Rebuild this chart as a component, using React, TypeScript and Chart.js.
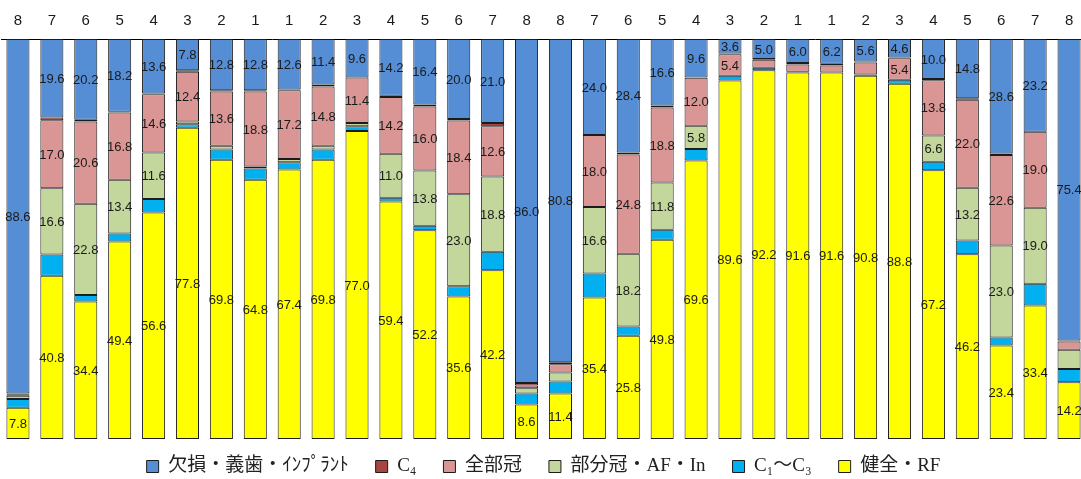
import React, { useEffect, useRef } from "react";
import { Chart, registerables } from "chart.js";

Chart.register(...registerables);

// Tooth positions (upper jaw right→left, then lower jaw left→right)
const teeth = [
  "8", "7", "6", "5", "4", "3", "2", "1", "1", "2", "3", "4", "5", "6", "7", "8",
  "8", "7", "6", "5", "4", "3", "2", "1", "1", "2", "3", "4", "5", "6", "7", "8",
];

// Shares (%) per tooth, bottom of the stack first
const healthyRF = [
  7.8, 40.8, 34.4, 49.4, 56.6, 77.8, 69.8, 64.8, 67.4, 69.8, 77.0, 59.4, 52.2, 35.6, 42.2, 8.6,
  11.4, 35.4, 25.8, 49.8, 69.6, 89.6, 92.2, 91.6, 91.6, 90.8, 88.8, 67.2, 46.2, 23.4, 33.4, 14.2,
];
const cariesC1C3 = [
  2.2, 5.3, 1.6, 2.0, 3.4, 0.9, 2.6, 2.8, 1.8, 2.6, 1.2, 0.9, 1.1, 2.6, 4.6, 2.8,
  3.0, 6.0, 2.3, 2.5, 2.9, 1.2, 0.6, 0.2, 0.0, 0.3, 1.0, 2.1, 3.4, 2.0, 5.4, 3.3,
];
const partialCrown = [
  0.8, 16.6, 22.8, 13.4, 11.6, 0.7, 0.9, 0.5, 0.8, 0.9, 0.8, 11.0, 13.8, 23.0, 18.8, 1.3,
  2.2, 16.6, 18.2, 11.8, 5.8, 0.0, 0.0, 0.0, 0.0, 0.0, 0.0, 6.6, 13.2, 23.0, 19.0, 4.8,
];
const fullCrown = [
  0.4, 17.0, 20.6, 16.8, 14.6, 12.4, 13.6, 18.8, 17.2, 14.8, 11.4, 14.2, 16.0, 18.4, 12.6, 0.7,
  2.1, 18.0, 24.8, 18.8, 12.0, 5.4, 2.0, 1.8, 1.8, 3.0, 5.4, 13.8, 22.0, 22.6, 19.0, 2.1,
];
const cariesC4 = [
  0.2, 0.7, 0.4, 0.2, 0.2, 0.4, 0.3, 0.3, 0.2, 0.5, 0.0, 0.3, 0.5, 0.4, 0.8, 0.6,
  0.5, 0.0, 0.5, 0.5, 0.1, 0.2, 0.2, 0.4, 0.4, 0.3, 0.2, 0.3, 0.4, 0.4, 0.0, 0.2,
];
const missing = [
  88.6, 19.6, 20.2, 18.2, 13.6, 7.8, 12.8, 12.8, 12.6, 11.4, 9.6, 14.2, 16.4, 20.0, 21.0, 86.0,
  80.8, 24.0, 28.4, 16.6, 9.6, 3.6, 5.0, 6.0, 6.2, 5.6, 4.6, 10.0, 14.8, 28.6, 23.2, 75.4,
];

const BORDER = "#1c1c1c";

// Value labels drawn in the middle of each segment.
// labelMin: smallest value that gets a label (null = no labels for that series)
const segmentLabels = {
  id: "segmentLabels",
  afterDatasetsDraw(chart: any) {
    const ctx = chart.ctx;
    ctx.save();
    ctx.font = "13px 'Liberation Sans', Arial, sans-serif";
    ctx.fillStyle = "#1a1a1a";
    ctx.textAlign = "center";
    ctx.textBaseline = "middle";
    chart.data.datasets.forEach((ds: any, di: number) => {
      if (ds.labelMin == null) return;
      const meta = chart.getDatasetMeta(di);
      meta.data.forEach((bar: any, i: number) => {
        const v = ds.data[i] as number;
        if (v < ds.labelMin) return;
        const { x, y, base } = bar.getProps(["x", "y", "base"], true);
        ctx.fillText(v.toFixed(1), x, (y + base) / 2 + 1);
      });
    });
    ctx.restore();
  },
};

// Keeps the legend strip compact; its row is drawn a little higher
// (the box grows upward so the text is not clipped)
const LEGEND_HEIGHT = 40;
const LEGEND_LIFT = 9;
const legendFit = {
  id: "legendFit",
  beforeInit(chart: any) {
    const legend = chart.legend;
    if (!legend) return;
    const fit = legend.fit.bind(legend);
    legend.fit = function () {
      fit();
      this.height = LEGEND_HEIGHT;
    };
  },
  afterLayout(chart: any) {
    const legend = chart.legend;
    if (!legend) return;
    legend.top -= LEGEND_LIFT;
  },
};

export default function App() {
  const canvasRef = useRef<HTMLCanvasElement | null>(null);

  useEffect(() => {
    const canvas = canvasRef.current;
    if (!canvas) return;
    const mk = (label: string, data: number[], color: string, labelMin: number | null) => ({
      label,
      data,
      backgroundColor: color,
      borderColor: BORDER,
      borderWidth: 1,
      borderSkipped: false,
      labelMin,
    });
    const chart = new Chart(canvas, {
      type: "bar",
      data: {
        labels: teeth,
        datasets: [
          mk("健全・RF", healthyRF, "#FFFF00", 0),
          mk("C₁～C₃", cariesC1C3, "#00B0F0", null),
          mk("部分冠・AF・In", partialCrown, "#C3D69B", 5),
          mk("全部冠", fullCrown, "#D99694", 5),
          mk("C₄", cariesC4, "#A9443F", null),
          mk("欠損・義歯・ｲﾝﾌﾟﾗﾝﾄ", missing, "#558ED5", 0),
        ] as any,
      },
      options: {
        responsive: false,
        animation: false,
        layout: { padding: { top: 3, left: 1, right: 0, bottom: 0 } },
        datasets: {
          bar: { categoryPercentage: 1, barPercentage: 0.68 },
        },
        scales: {
          x: {
            position: "top",
            stacked: true,
            grid: { display: false },
            border: { display: true, color: "#000", width: 1 },
            ticks: {
              color: "#1a1a1a",
              padding: 1,
              font: { size: 15, family: "'Liberation Sans', Arial, sans-serif" },
            },
            afterFit(axis: any) {
              axis.height = 36;
            },
          },
          y: {
            stacked: true,
            display: false,
            min: 0,
            max: 100,
          },
        },
        plugins: {
          legend: {
            position: "bottom",
            reverse: true,
            labels: {
              boxWidth: 12,
              boxHeight: 12,
              padding: 27,
              color: "#222",
              font: { size: 19, family: "'Liberation Serif', 'Noto Sans CJK JP', serif" },
            },
          },
          tooltip: { enabled: false },
        },
      },
      plugins: [segmentLabels, legendFit],
    });
    return () => chart.destroy();
  }, []);

  return (
    <div
      style={{
        position: "fixed",
        left: 0,
        top: 0,
        width: 1081,
        height: 479,
        overflow: "hidden",
        background: "#fff",
      }}
    >
      <canvas ref={canvasRef} width={1086} height={479} style={{ display: "block" }} />
    </div>
  );
}
